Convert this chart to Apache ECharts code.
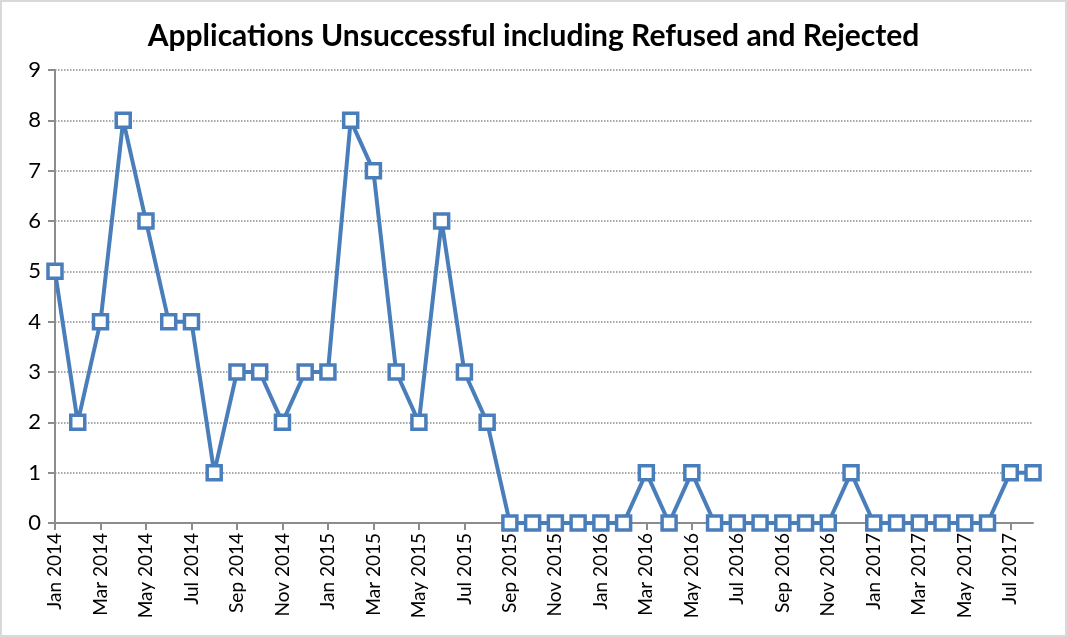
<!DOCTYPE html>
<html><head><meta charset="utf-8">
<script src="https://cdn.jsdelivr.net/npm/echarts@6/dist/echarts.min.js"></script>
<style>
html,body{margin:0;padding:0;background:#fff;}
#wrap{position:absolute;left:0;top:0;width:1063px;height:633px;border:2px solid #d9d9d9;}
#c{width:1063px;height:633px;}
</style></head><body>
<div id="wrap"><div id="c"></div></div>
<script>
const months = ['Jan','Feb','Mar','Apr','May','Jun','Jul','Aug','Sep','Oct','Nov','Dec'];
const categories = [];
for (const y of [2014, 2015, 2016, 2017]) for (const m of months) categories.push(m + ' ' + y);
categories.length = 44;
const values = [5,2,4,8,6,4,4,1,3,3,2,3,
                3,8,7,3,2,6,3,2,0,0,0,0,
                0,0,1,0,1,0,0,0,0,0,0,1,
                0,0,0,0,0,0,1,1];
const chart = echarts.init(document.getElementById('c'));
chart.setOption({
  animation:false,
  title:{text:'Applications Unsuccessful including Refused and Rejected',left:'center',top:14,
    textStyle:{fontFamily:'Lato',fontSize:30,fontWeight:'bold',color:'#000'}},
  grid:{left:53,right:32,top:68,bottom:112},
  xAxis:{type:'category',data:categories,boundaryGap:false,
    axisLine:{lineStyle:{color:'#8c8c8c',width:2}},
    axisTick:{interval:1,length:7,lineStyle:{color:'#8c8c8c',width:2}},
    axisLabel:{interval:1,rotate:90,fontFamily:'Lato',fontSize:19,color:'#000',margin:10},
    splitLine:{show:false}},
  yAxis:{type:'value',min:0,max:9,interval:1,
    axisLine:{show:true,lineStyle:{color:'#8c8c8c',width:2}},
    axisTick:{show:true,length:7,lineStyle:{color:'#8c8c8c',width:2}},
    axisLabel:{fontFamily:'Lato',fontSize:22,color:'#000',margin:14},
    splitLine:{lineStyle:{color:'#8c8c8c',type:'dotted',width:1.5}}},
  series:[{type:'line',data:values,symbol:'rect',symbolSize:14,
    lineStyle:{color:'#4a7ebb',width:4},
    itemStyle:{color:'#fff',borderColor:'#4a7ebb',borderWidth:3.5}}]
});
</script></body></html>
